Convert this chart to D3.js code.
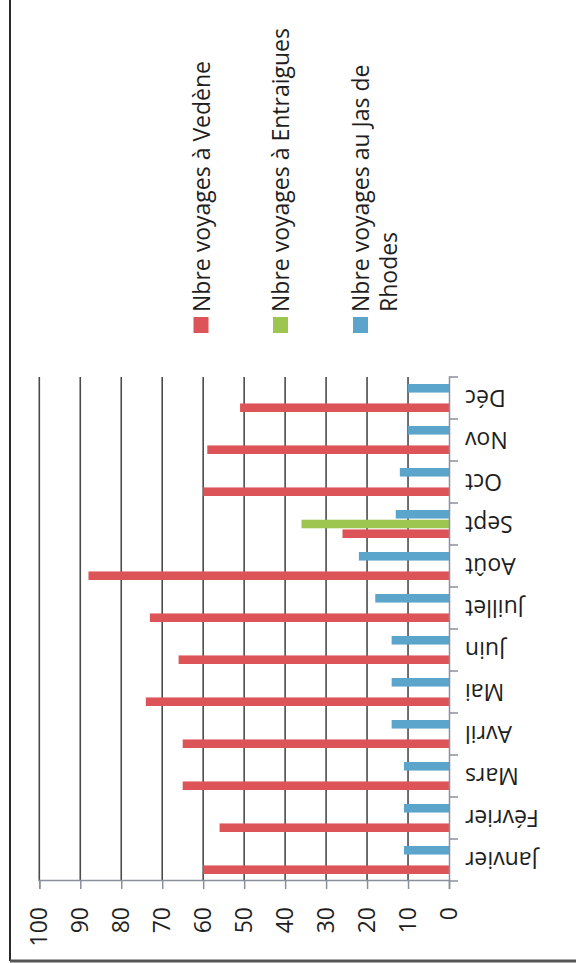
<!DOCTYPE html>
<meta charset="utf-8">
<style>
body { margin: 0; background: #fff; }
text { font-family: "Open Sans", sans-serif; fill: #1e1e1e; }
</style>
<body>
<script src="https://d3js.org/d3.v7.min.js"></script>
<script>

const months = ["Janvier", "Février", "Mars", "Avril", "Mai", "Juin", "Juillet", "Août", "Sept", "Oct", "Nov", "Déc"];
const vedene = [60, 56, 65, 65, 74, 66, 73, 88, 26, 60, 59, 51];
const entraigues = [0, 0, 0, 0, 0, 0, 0, 0, 36, 0, 0, 0];
const jasDeRhodes = [11, 11, 11, 14, 14, 14, 18, 22, 13, 12, 10, 10];
const seriesNames = ["Nbre voyages à Vedène", "Nbre voyages à Entraigues", "Nbre voyages au Jas de Rhodes"];
const valueTicks = [0, 10, 20, 30, 40, 50, 60, 70, 80, 90, 100];

var colors = ["#dc5457", "#9dc650", "#5ba4cc"];
var seriesValues = [vedene, entraigues, jasDeRhodes];

// the chart is drawn upright (963 wide, 576 high) and then turned a quarter turn, like the scan
var W = 963, H = 576;

var svg = d3.select("body").append("svg")
    .attr("width", H)
    .attr("height", W);

var chart = svg.append("g")
    .attr("transform", "translate(0," + W + ") rotate(-90)");

var x0 = d3.scaleBand().domain(months).range([82, 586]);
var x1 = d3.scaleBand().domain(seriesNames).range([7, 35]).paddingInner(0.12);
var y = d3.scaleLinear().domain([0, 100]).range([449, 39.3]);

// gridlines
chart.append("g")
  .selectAll("line")
  .data(valueTicks.filter(d => d > 0))
  .enter().append("line")
    .attr("x1", 82)
    .attr("x2", 586)
    .attr("y1", d => y(d))
    .attr("y2", d => y(d))
    .attr("stroke", "#4b4b4b")
    .attr("stroke-width", 1.6);

// value axis
var yAxis = d3.axisLeft(y).tickValues(valueTicks).tickSize(8).tickPadding(18);
chart.append("g")
    .attr("transform", "translate(82,0)")
    .call(yAxis)
    .call(g => g.select(".domain").attr("stroke", "#8a8f9c").attr("stroke-width", 1.5))
    .call(g => g.selectAll(".tick line").attr("stroke", "#8a8f9c").attr("stroke-width", 1.5))
    .call(g => g.selectAll(".tick text")
      .attr("font-size", "23px")
      .attr("font-family", "Open Sans, sans-serif")
      .attr("fill", "#1e1e1e"));

// bars
var slice = chart.selectAll(".slice")
    .data(months)
    .enter().append("g")
    .attr("class", "slice")
    .attr("transform", d => "translate(" + x0(d) + ",0)");

slice.selectAll("rect")
    .data((m, i) => seriesNames.map((s, k) => ({ s: s, k: k, v: seriesValues[k][i] })))
    .enter().append("rect")
    .attr("x", d => x1(d.s))
    .attr("width", x1.bandwidth())
    .attr("y", d => y(d.v))
    .attr("height", d => y(0) - y(d.v))
    .attr("fill", d => colors[d.k]);

// category axis
var xAxis = d3.axisBottom(x0).tickSize(0).tickPadding(0);
chart.append("g")
    .attr("transform", "translate(0," + y(0) + ")")
    .call(xAxis)
    .call(g => g.select(".domain").attr("stroke", "#8a8f9c").attr("stroke-width", 1.5))
    .call(g => g.selectAll(".tick text")
      .attr("font-size", "23px")
      .attr("font-family", "Open Sans, sans-serif")
      .attr("fill", "#1e1e1e")
      .attr("text-anchor", "end")
      .attr("transform", "rotate(-90)")
      .attr("x", -16)
      .attr("y", 0)
      .attr("dy", "0.36em"));

chart.append("g")
  .selectAll("line")
  .data(d3.range(months.length + 1))
  .enter().append("line")
    .attr("x1", i => x0.range()[0] + i * x0.step())
    .attr("x2", i => x0.range()[0] + i * x0.step())
    .attr("y1", y(0))
    .attr("y2", y(0) + 9)
    .attr("stroke", "#8a8f9c")
    .attr("stroke-width", 1.5);

// legend
var legendY = [201.5, 281, 361];
var legend = chart.selectAll(".legend")
    .data(seriesNames)
    .enter().append("g")
    .attr("class", "legend")
    .attr("transform", (d, i) => "translate(630," + legendY[i] + ")");

legend.append("rect")
    .attr("x", 0)
    .attr("y", -8)
    .attr("width", 16)
    .attr("height", 15)
    .attr("fill", (d, i) => colors[i]);

legend.append("text")
    .attr("x", 21)
    .attr("y", 0)
    .attr("dy", "0.36em")
    .attr("font-size", "23px")
    .each(function(d, i) {
      var t = d3.select(this);
      if (i == 2) {
        t.append("tspan").attr("x", 21).text("Nbre voyages au Jas de");
        t.append("tspan").attr("x", 21).attr("dy", "1.2em").text("Rhodes");
      } else {
        t.text(d);
      }
    });

// frame of the scanned page
svg.append("line").attr("x1", 10).attr("x2", 10).attr("y1", 0).attr("y2", 961)
    .attr("stroke", "#2b2b2b").attr("stroke-width", 2);
svg.append("line").attr("x1", 10).attr("x2", 576).attr("y1", 961).attr("y2", 961)
    .attr("stroke", "#555", ).attr("stroke-width", 3);

</script>
